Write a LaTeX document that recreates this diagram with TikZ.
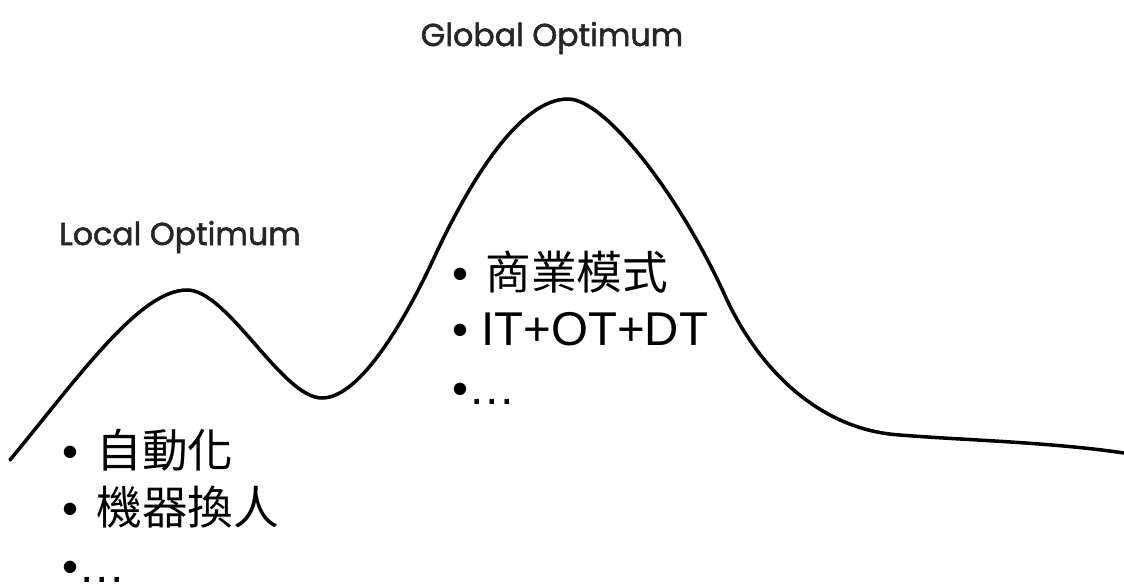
\documentclass[tikz,border=0pt]{standalone}
\usepackage{fontspec}
\newfontfamily\cjkfont{Noto Sans CJK TC}
\newfontfamily\libfont{Liberation Sans}
\newfontfamily\optfont{Poppins}[BoldFont=Poppins, BoldFeatures={FakeBold=1.6}]
\begin{document}
\begin{tikzpicture}[x=0.02cm,y=-0.02cm,
  curve/.style={line width=2pt, black, line cap=round},
  bul/.style={inner sep=0, anchor=base west, font=\libfont\fontsize{26}{26}\selectfont},
  cjk/.style={inner sep=0, anchor=base west, font=\cjkfont\fontsize{26}{26}\selectfont},
  lat/.style={inner sep=0, anchor=base west, font=\libfont\fontsize{27}{27}\selectfont},
  opt/.style={inner sep=0, anchor=base, text=black!85, font=\optfont\bfseries\fontsize{18}{18}\selectfont}]
\useasboundingbox (0,0) rectangle (1124,584);
\fill[white] (0,0) rectangle (1124,584);
% landscape curve
\coordinate (s) at (10,460);
\coordinate (lp) at (187,290);
\coordinate (v) at (322,398);
\coordinate (m1) at (433,260);
\coordinate (gp) at (568,99);
\coordinate (m2) at (727,300);
\coordinate (f) at (900,435);
\coordinate (e) at (1124,453);
\draw[curve] (s) .. controls (80,375) and (140,290) .. (lp)
  .. controls (228,290) and (282,398) .. (v)
  .. controls (360,398) and (405,320) .. (m1)
  .. controls (470,180) and (520,99) .. (gp)
  .. controls (605,99) and (680,195) .. (m2)
  .. controls (760,370) and (820,430) .. (f)
  .. controls (960,440) and (1050,442) .. (e);
% labels
\node[opt] (glob) at (552,46) {Global Optimum};
\node[opt] (loc) at (180,245) {Local Optimum};
% right bullets
\node[bul] (rb1) at (452,289) {•};
\node[cjk] (rt1) at (485,289) {商業模式};
\node[bul] (rb2) at (452,345) {•};
\node[lat] (rt2) at (481,345) {IT+OT+DT};
\node[bul] (rb3) at (452,404) {•};
\node[lat] (rt3) at (468,404) {…};
% left bullets
\node[bul] (lb1) at (62,467) {•};
\node[cjk] (lt1) at (96,467) {自動化};
\node[bul] (lb2) at (62,524) {•};
\node[cjk] (lt2) at (96,524) {機器換人};
\node[bul] (lb3) at (62,582) {•};
\node[lat] (lt3) at (78,582) {…};
\end{tikzpicture}
\end{document}
